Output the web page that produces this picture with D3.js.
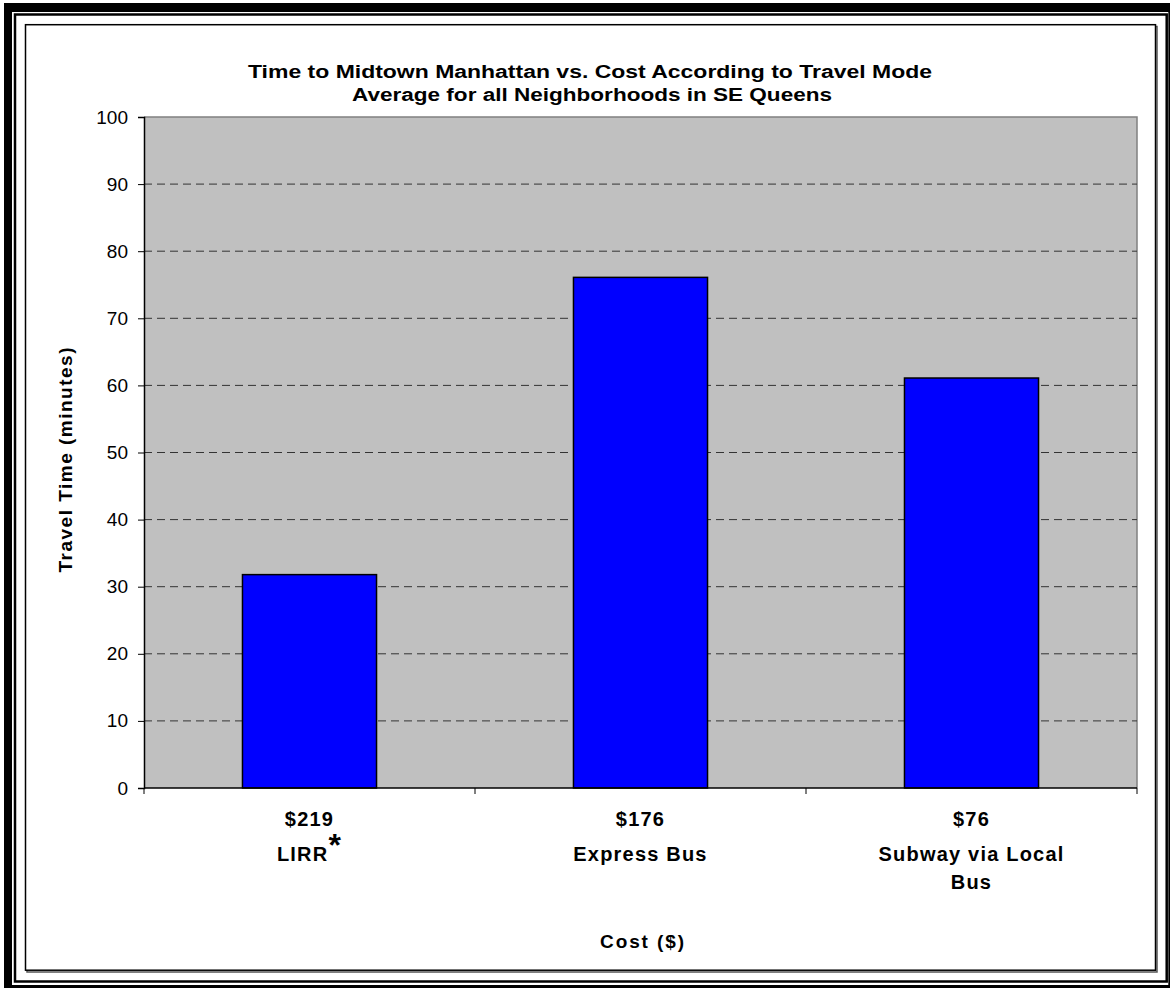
<!doctype html>
<html>
<head>
<meta charset="utf-8">
<title>Time to Midtown Manhattan vs. Cost</title>
<style>
  body { margin: 0; background: #fff; }
  svg text { font-family: "Liberation Sans", Arial, sans-serif; fill: #000; }
</style>
</head>
<body>
<div id="chart-area"></div>
<script src="https://cdnjs.cloudflare.com/ajax/libs/d3/7.8.5/d3.min.js"></script>
<script>
// data
var modes = ["LIRR", "Express Bus", "Subway via Local Bus"];
var costs = ["$219", "$176", "$76"];
var modeLines = [["LIRR"], ["Express Bus"], ["Subway via Local", "Bus"]];
var travelMinutes = [31.8, 76.1, 61.1];
var yTicks = [0, 10, 20, 30, 40, 50, 60, 70, 80, 90, 100];

var W = 1170, H = 988;
var plot = { left: 144, right: 1137, top: 117, bottom: 788 };

var svg = d3.select("#chart-area").append("svg")
  .attr("width", W)
  .attr("height", H);

// frames
svg.append("rect").attr("x", 4).attr("y", 3).attr("width", W).attr("height", H + 5).attr("fill", "#000");
svg.append("rect").attr("x", 12).attr("y", 12).attr("width", 1156.3).attr("height", 973).attr("fill", "#fff");
svg.append("rect").attr("x", 15).attr("y", 14.5).attr("width", 1151.7).attr("height", 967)
  .attr("fill", "none").attr("stroke", "#000").attr("stroke-width", 2.5);
// inner chart box with shadow
svg.append("rect").attr("x", 27).attr("y", 26.5).attr("width", 1130).attr("height", 945.5)
  .attr("fill", "none").attr("stroke", "#555").attr("stroke-width", 1.5);
svg.append("rect").attr("x", 25.5).attr("y", 24.7).attr("width", 1130).attr("height", 945.5)
  .attr("fill", "#fff").attr("stroke", "#000").attr("stroke-width", 1.5);

// scales
var x = d3.scaleBand()
  .domain(modes)
  .range([plot.left, plot.right])
  .paddingInner(0.595)
  .paddingOuter(0.2975);

var y = d3.scaleLinear()
  .domain([0, 100])
  .range([plot.bottom, plot.top]);

// plot area
svg.append("rect")
  .attr("x", plot.left).attr("y", y(100))
  .attr("width", plot.right - plot.left).attr("height", y(0) - y(100))
  .attr("fill", "#c0c0c0");

// border top and right in gray
svg.append("path")
  .attr("d", "M" + plot.left + "," + y(100) + "H" + plot.right + "V" + y(0))
  .attr("fill", "none").attr("stroke", "#808080").attr("stroke-width", 1.5);

// gridlines
svg.append("g").selectAll("line")
  .data(yTicks.filter(function(d) { return d > 0 && d < 100; }))
  .join("line")
  .attr("x1", plot.left).attr("x2", plot.right)
  .attr("y1", function(d) { return y(d); })
  .attr("y2", function(d) { return y(d); })
  .attr("stroke", "#333")
  .attr("stroke-width", 1)
  .attr("stroke-dasharray", "8,5");

// bars
svg.append("g").selectAll("rect")
  .data(modes)
  .join("rect")
  .attr("x", function(d) { return x(d); })
  .attr("y", function(d, i) { return y(travelMinutes[i]); })
  .attr("width", x.bandwidth())
  .attr("height", function(d, i) { return y(0) - y(travelMinutes[i]); })
  .attr("fill", "#0000ff")
  .attr("stroke", "#000")
  .attr("stroke-width", 1.5);

// y axis
var yAxis = svg.append("g")
  .attr("transform", "translate(" + plot.left + ",0)")
  .call(d3.axisLeft(y).tickValues(yTicks).tickSize(6).tickPadding(10));
yAxis.select(".domain").attr("stroke", "#000").attr("stroke-width", 1.5);
yAxis.selectAll(".tick line").attr("stroke", "#000");
yAxis.selectAll(".tick text")
  .attr("font-family", "Liberation Sans, Arial, sans-serif")
  .attr("font-size", 19)
  .attr("fill", "#000");

// x axis: line and ticks at category boundaries
var boundaries = d3.range(modes.length + 1).map(function(i) { return plot.left + i * x.step(); });
svg.append("line")
  .attr("x1", plot.left).attr("x2", plot.right)
  .attr("y1", y(0)).attr("y2", y(0))
  .attr("stroke", "#000").attr("stroke-width", 1.5);
svg.append("g").selectAll("line")
  .data(boundaries)
  .join("line")
  .attr("x1", function(d) { return d; }).attr("x2", function(d) { return d; })
  .attr("y1", y(0)).attr("y2", y(0) + 6)
  .attr("stroke", "#000");

// x category labels
var labels = svg.append("g")
  .attr("font-weight", "bold")
  .attr("font-size", 20)
  .attr("letter-spacing", 1.2)
  .attr("text-anchor", "middle");

modes.forEach(function(m, i) {
  var cx = x(m) + x.bandwidth() / 2;
  labels.append("text")
    .attr("x", cx).attr("y", 826)
    .text(costs[i]);
  modeLines[i].forEach(function(line, j) {
    var t = labels.append("text")
      .attr("x", cx).attr("y", 861 + j * 28);
    if (m === "LIRR") {
      t.append("tspan").text(line);
      t.append("tspan").attr("font-size", 32).attr("dy", -5).text("*");
    } else {
      t.text(line);
    }
  });
});

// titles
var title = svg.append("g")
  .attr("font-weight", "bold")
  .attr("font-size", 18)
  .attr("text-anchor", "middle");
title.append("text").attr("x", 590).attr("y", 78)
  .attr("textLength", 684).attr("lengthAdjust", "spacingAndGlyphs")
  .text("Time to Midtown Manhattan vs. Cost According to Travel Mode");
title.append("text").attr("x", 592).attr("y", 101)
  .attr("textLength", 480).attr("lengthAdjust", "spacingAndGlyphs")
  .text("Average for all Neighborhoods in SE Queens");

svg.append("text")
  .attr("transform", "translate(72,460) rotate(-90)")
  .attr("text-anchor", "middle")
  .attr("font-weight", "bold")
  .attr("font-size", 19)
  .attr("textLength", 225)
  .text("Travel Time (minutes)");

svg.append("text")
  .attr("x", 642).attr("y", 948)
  .attr("text-anchor", "middle")
  .attr("font-weight", "bold")
  .attr("font-size", 19)
  .attr("textLength", 84)
  .text("Cost ($)");
</script>
</body>
</html>
